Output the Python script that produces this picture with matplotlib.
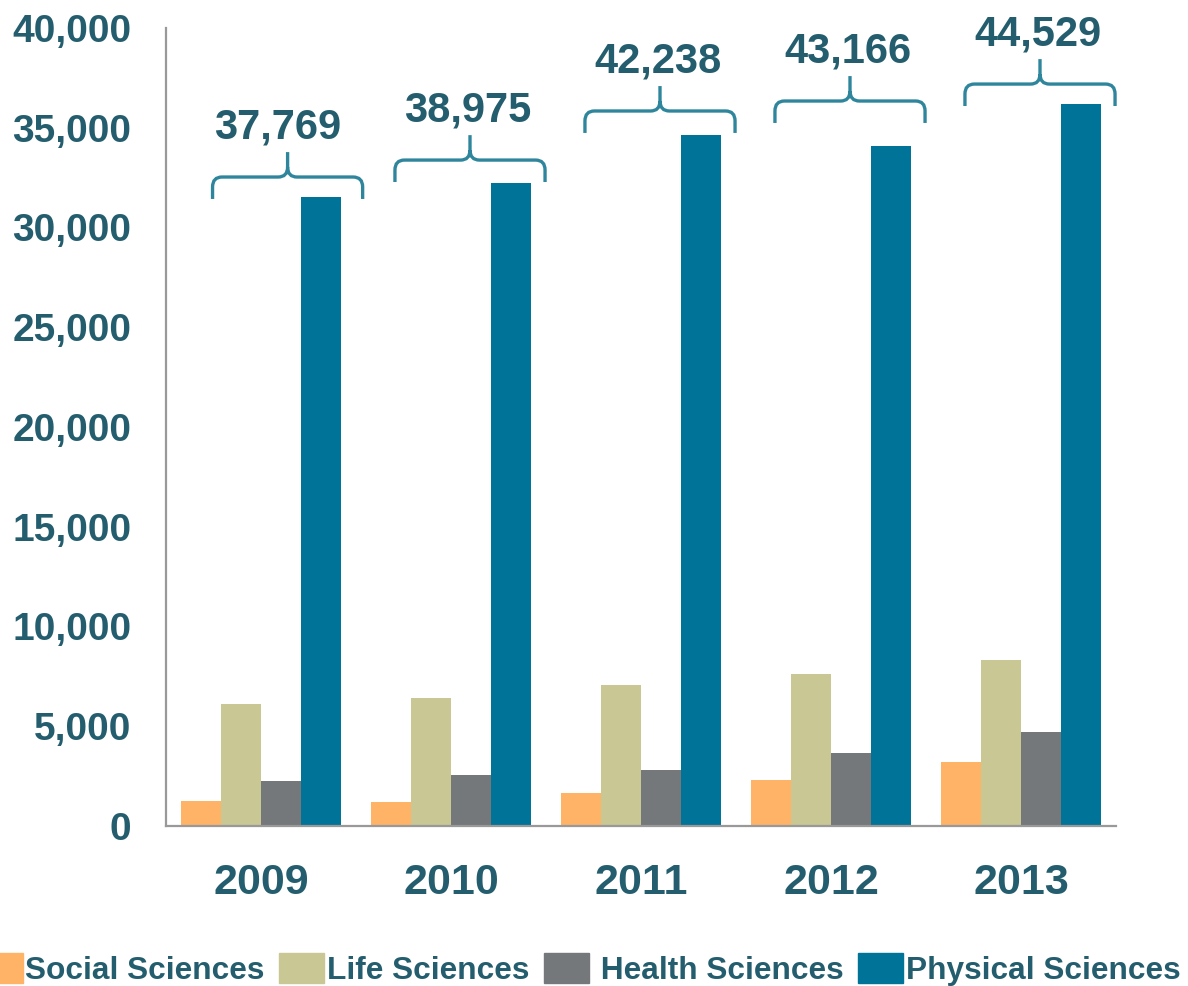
import numpy as np
from matplotlib import pyplot as plt
from matplotlib.path import Path
from matplotlib.patches import PathPatch, Patch

plt.rcParams['font.family'] = ['Liberation Sans', 'DejaVu Sans']
plt.rcParams['font.weight'] = 'bold'

years = ['2009', '2010', '2011', '2012', '2013']
series = ['Social Sciences', 'Life Sciences', ' Health Sciences', 'Physical Sciences']
social = [1250, 1190, 1640, 2310, 3210]
life = [6120, 6430, 7070, 7620, 8310]
health = [2260, 2560, 2810, 3660, 4700]
physical = [31540, 32250, 34640, 34070, 36190]
totals = [37769, 38975, 42238, 43166, 44529]

colors = ['#FFB366', '#C9C793', '#75787B', '#007398']
txt = '#245E6E'
brace_col = '#2F869C'
# where each bracket sits (layout only)
brace_base = [31430, 32280, 34740, 35240, 36090]

fig = plt.figure(figsize=(11.88, 9.86), dpi=100)
ax = fig.add_axes([166/1188, 1-826/986, 950/1188, 798/986])

x = np.arange(len(years))
w = 40/190
for i, vals in enumerate([social, life, health, physical]):
    ax.bar(x + (i - 1.5)*w, vals, w, color=colors[i], label=series[i], linewidth=0)

ax.set_xlim(-0.5, len(years) - 0.5)
ax.set_ylim(0, 40000)
ax.set_yticks(np.arange(0, 40001, 5000))
ax.set_yticklabels(['{:,}'.format(v) for v in range(0, 40001, 5000)])
ax.set_xticks(x)
ax.set_xticklabels(years)
ax.tick_params(axis='y', length=0, pad=25, labelsize=28, labelcolor=txt)
ax.tick_params(axis='x', length=0, pad=27, labelsize=31, labelcolor=txt)
for s in ['top', 'right']:
    ax.spines[s].set_visible(False)
for s in ['left', 'bottom']:
    ax.spines[s].set_color('#999999')
    ax.spines[s].set_linewidth(1.6)

# curly brackets with totals
rx, ry = 0.05, 500
for i, yb in enumerate(brace_base):
    xm = x[i] + (0.14 if i == 0 else 0.1)
    x0, x1 = xm - 0.395, xm + 0.395
    yh = yb + 1100
    yt = yh + 1250
    verts = [(x0, yb), (x0, yh - ry), (x0, yh), (x0 + rx, yh), (xm - rx, yh),
             (xm, yh), (xm, yh + ry), (xm, yt),
             (xm, yh + ry), (xm, yh), (xm + rx, yh), (x1 - rx, yh),
             (x1, yh), (x1, yh - ry), (x1, yb)]
    codes = [Path.MOVETO, Path.LINETO, Path.CURVE3, Path.CURVE3, Path.LINETO,
             Path.CURVE3, Path.CURVE3, Path.LINETO,
             Path.MOVETO, Path.CURVE3, Path.CURVE3, Path.LINETO,
             Path.CURVE3, Path.CURVE3, Path.LINETO]
    ax.add_patch(PathPatch(Path(verts, codes), fill=False, edgecolor=brace_col,
                           linewidth=2.4, clip_on=False, capstyle='butt'))
    ax.text(x[i] + 0.09, yt + 1250, '{:,}'.format(totals[i]), ha='center', va='center',
            fontsize=30, color=txt, clip_on=False)

handles = [Patch(color=c) for c in colors]
fig.legend(handles, series, loc='lower left', bbox_to_anchor=(-23/1188, 0),
           ncol=4, frameon=False, fontsize=22.8, labelcolor=txt,
           handlelength=1.44, handleheight=1.07, handletextpad=0.08,
           columnspacing=0.45, borderpad=0, borderaxespad=0)

fig.savefig('out.png', dpi=100)
